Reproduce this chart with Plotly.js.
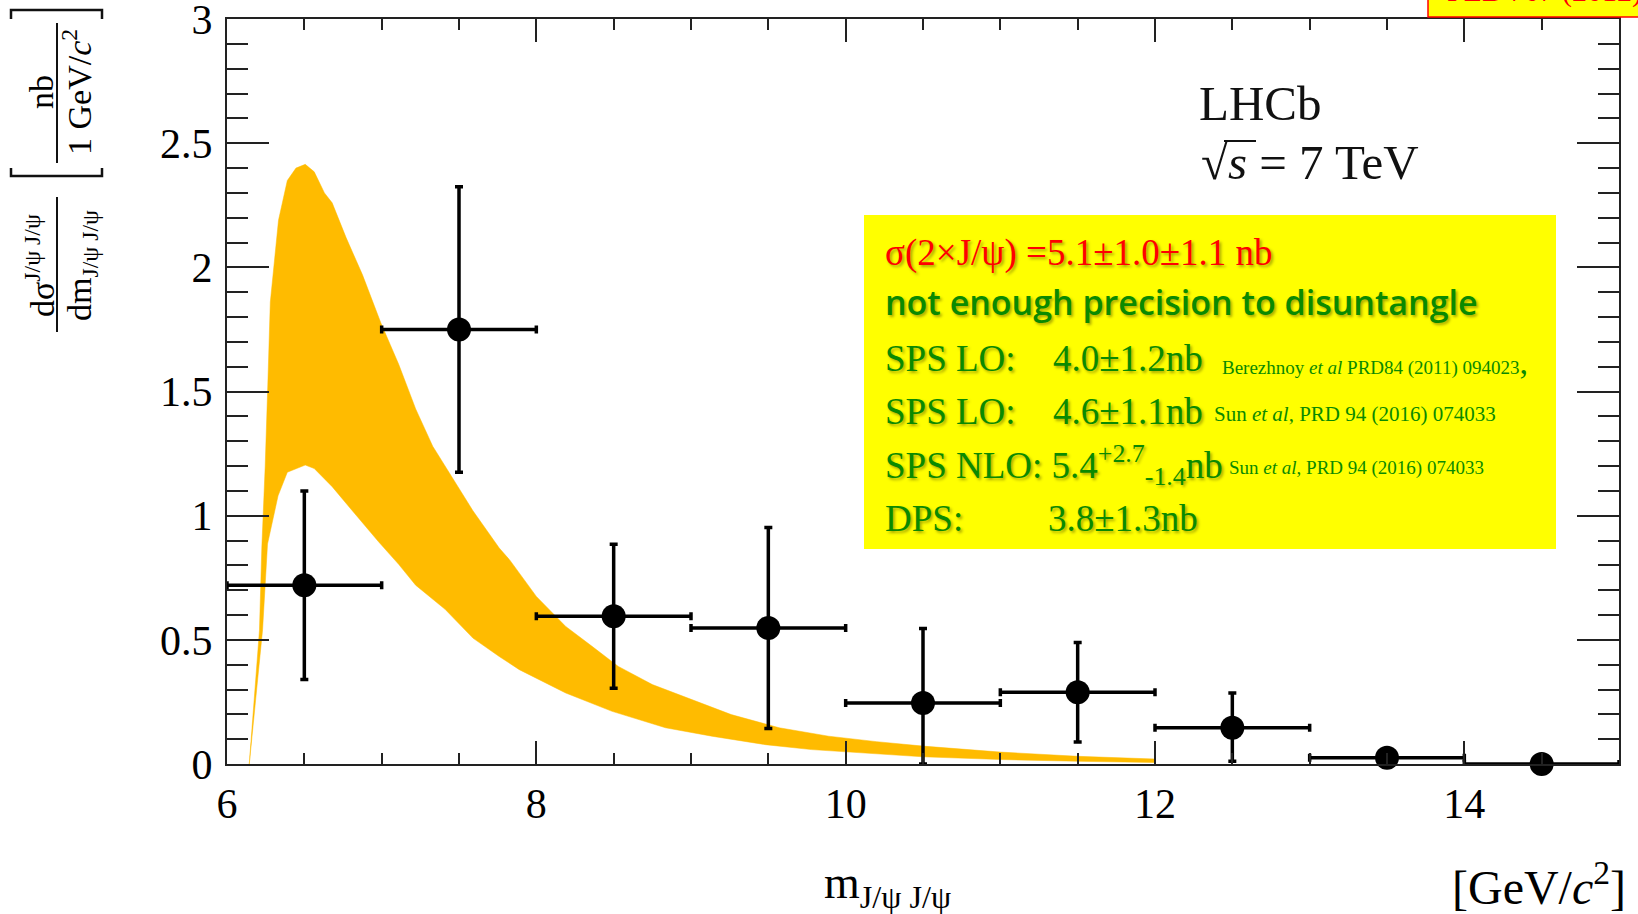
<!DOCTYPE html>
<html>
<head>
<meta charset="utf-8">
<script src="https://cdn.plot.ly/plotly-3.0.1.min.js"></script>
<style>
  html, body { margin: 0; padding: 0; background: #fff; }
  #chart { width: 1638px; height: 914px; }
</style>
</head>
<body>
<div id="chart"></div>
<script>
// LHCb double J/psi production at sqrt(s) = 7 TeV: dsigma/dm with SPS theory band

// measured points (bin centres, 1 GeV/c^2 bins)
const massCenters  = [6.5, 7.5, 8.5, 9.5, 10.5, 11.5, 12.5, 13.5, 14.5];
const xsecValues   = [0.72, 1.75, 0.595, 0.548, 0.246, 0.289, 0.146, 0.025, 0.0];
const xsecErrUp    = [0.38, 0.575, 0.29, 0.405, 0.30, 0.20, 0.14, 0.012, 0.0];
const xsecErrDown  = [0.38, 0.575, 0.29, 0.405, 0.246, 0.20, 0.135, 0.012, 0.0];
const binHalfWidth = [0.5, 0.5, 0.5, 0.5, 0.5, 0.5, 0.5, 0.5, 0.5];

// theory band: upper and lower edges
const bandUpperX = [6.144, 6.21, 6.225, 6.247, 6.264, 6.28, 6.333, 6.39, 6.446, 6.506, 6.564, 6.63, 6.68,
                    6.77, 6.876, 6.995, 7.11, 7.22, 7.33, 7.46, 7.59, 7.76, 7.83, 8.0, 8.19, 8.36, 8.53,
                    8.75, 8.92, 9.26, 9.57, 9.89, 10.2, 10.5, 11.0, 11.5, 12.0];
const bandUpperY = [0.0, 0.54, 0.87, 1.2, 1.53, 1.86, 2.19, 2.35, 2.40, 2.415, 2.385, 2.30, 2.26,
                    2.12, 1.97, 1.776, 1.61, 1.43, 1.28, 1.15, 1.02, 0.87, 0.82, 0.675, 0.554, 0.474, 0.393,
                    0.32, 0.28, 0.199, 0.146, 0.112, 0.09, 0.072, 0.048, 0.031, 0.02];
const bandLowerX = [6.144, 6.23, 6.262, 6.33, 6.39, 6.506, 6.564, 6.68, 6.79, 6.98, 7.11, 7.22, 7.41,
                    7.59, 7.76, 7.89, 8.19, 8.49, 8.835, 9.135, 9.48, 9.78, 10.1, 10.5, 11.0, 11.5, 12.0];
const bandLowerY = [0.0, 0.54, 0.886, 1.08, 1.175, 1.204, 1.19, 1.117, 1.035, 0.895, 0.804, 0.72, 0.623,
                    0.507, 0.433, 0.38, 0.286, 0.212, 0.146, 0.112, 0.078, 0.058, 0.045, 0.029, 0.018, 0.011, 0.006];

// page geometry helpers (pixel -> paper coordinates)
const W = 1638, H = 914;
const M = { l: 227, r: 19, t: 19, b: 150 };
const PW = W - M.l - M.r, PH = H - M.t - M.b;
const px = x => (x - M.l) / PW;
const py = y => (H - M.b - y) / PH;

const SERIF = 'Liberation Serif, Times New Roman, serif';
const GREEN = '#0a8a00';
const SHADOW = '2px 2px 3px rgba(0,0,0,0.35)';

function note(text, x, y, font, extra) {
  return Object.assign({
    xref: 'paper', yref: 'paper', x: px(x), y: py(y), text: text,
    showarrow: false, xanchor: 'left', yanchor: 'middle',
    font: Object.assign({ family: SERIF, size: 36, color: '#000' }, font)
  }, extra || {});
}

const band = {
  type: 'scatter', mode: 'lines',
  x: bandUpperX.concat(bandLowerX.slice().reverse()),
  y: bandUpperY.concat(bandLowerY.slice().reverse()),
  fill: 'toself', fillcolor: '#FFBB00',
  line: { color: '#FFBB00', width: 0.5 },
  hoverinfo: 'skip', showlegend: false
};

const points = {
  type: 'scatter', mode: 'markers',
  x: massCenters, y: xsecValues,
  marker: { color: '#000', size: 24 },
  error_y: { type: 'data', symmetric: false, array: xsecErrUp, arrayminus: xsecErrDown,
             color: '#000', thickness: 3.5, width: 4 },
  error_x: { type: 'data', array: binHalfWidth, color: '#000', thickness: 3.5, width: 4 },
  cliponaxis: false, showlegend: false
};

const axisCommon = {
  showgrid: false, zeroline: false, showline: true, linecolor: '#222', linewidth: 2,
  mirror: 'ticks', ticks: 'inside', tickcolor: '#222', tickwidth: 2,
  ticklabeloverflow: 'allow',
  tickfont: { family: SERIF, size: 42, color: '#000' }
};

const layout = {
  width: W, height: H,
  margin: M,
  paper_bgcolor: '#fff', plot_bgcolor: '#fff',
  showlegend: false,
  xaxis: Object.assign({}, axisCommon, {
    range: [6, 15], tick0: 6, dtick: 2, ticklen: 23, ticklabelstandoff: 2,
    minor: { dtick: 0.5, ticklen: 11, tickwidth: 2, tickcolor: '#222', ticks: 'inside' }
  }),
  yaxis: Object.assign({}, axisCommon, {
    range: [0, 3.0005], tick0: 0, dtick: 0.5, ticklen: 42, ticklabelstandoff: 4,
    minor: { dtick: 0.1, ticklen: 21, tickwidth: 2, tickcolor: '#222', ticks: 'inside' }
  }),
  shapes: [
    // results box
    { type: 'rect', xref: 'paper', yref: 'paper', x0: px(864), x1: px(1556), y0: py(549), y1: py(215),
      fillcolor: '#FFFF00', line: { width: 0 }, layer: 'above' },
    // reference box at top right
    { type: 'rect', xref: 'paper', yref: 'paper', x0: px(1428), x1: px(1660), y0: py(17), y1: py(-20),
      fillcolor: '#FFFF00', line: { color: '#FF0000', width: 1.5 }, layer: 'above' },
    // y title fraction bars
    { type: 'line', xref: 'paper', yref: 'paper', x0: px(57), x1: px(57), y0: py(197), y1: py(332),
      line: { color: '#111', width: 2 } },
    { type: 'line', xref: 'paper', yref: 'paper', x0: px(57), x1: px(57), y0: py(23), y1: py(163),
      line: { color: '#111', width: 2 } },
    // y title brackets
    { type: 'path', xref: 'paper', yref: 'paper',
      path: `M ${px(11)} ${py(168)} L ${px(11)} ${py(176)} L ${px(102)} ${py(176)} L ${px(102)} ${py(168)}`,
      line: { color: '#111', width: 2.5 } },
    { type: 'path', xref: 'paper', yref: 'paper',
      path: `M ${px(11)} ${py(19)} L ${px(11)} ${py(10)} L ${px(102)} ${py(10)} L ${px(102)} ${py(19)}`,
      line: { color: '#111', width: 2.5 } },
    // radical bar over s
    { type: 'line', xref: 'paper', yref: 'paper', x0: px(1224), x1: px(1256), y0: py(141), y1: py(141),
      line: { color: '#111', width: 2 } }
  ],
  annotations: [
    // y axis title
    note('dσ<sup>J/ψ J/ψ</sup>', 40, 266, { size: 34 }, { textangle: -90, xanchor: 'center' }),
    note('dm<sub>J/ψ J/ψ</sub>', 82, 266, { size: 34 }, { textangle: -90, xanchor: 'center' }),
    note('nb', 41, 92, { size: 34 }, { textangle: -90, xanchor: 'center' }),
    note('1 GeV/<i>c</i><sup>2</sup>', 77, 92, { size: 34 }, { textangle: -90, xanchor: 'center' }),
    // x axis title
    note('m<sub>J/ψ J/ψ</sub>', 822, 886, { size: 46 }),
    note('[GeV/<i>c</i><sup>2</sup>]', 1627, 884, { size: 48 }, { xanchor: 'right', borderpad: 0 }),
    // experiment label
    note('LHCb', 1197, 104, { size: 49, color: '#111' }),
    note('√<i>s</i> = 7 TeV', 1199, 162, { size: 49, color: '#111' }),
    // reference box text
    note('PLB 707 (2012) 52', 1445, 10, { size: 30, color: '#FF0000' }, { yanchor: 'bottom' }),
    // results
    note('σ(2×J/ψ) =5.1±1.0±1.1 nb', 883, 253, { size: 37, color: '#FF0000', shadow: SHADOW }),
    note('not enough precision to disuntangle', 883, 302,
         { family: 'Comic Sans MS, Open Sans, sans-serif', size: 34, weight: 600, color: GREEN, shadow: SHADOW }),
    note('SPS LO:', 883, 358, { size: 37, color: GREEN, shadow: SHADOW }),
    note('4.0±1.2nb', 1051, 358, { size: 37, color: GREEN, shadow: SHADOW }),
    note('Berezhnoy <i>et al</i> PRD84 (2011) 094023<span style="font-size:34px">,</span>', 1220, 362,
         { size: 19, color: GREEN }),
    note('SPS LO:', 883, 411, { size: 37, color: GREEN, shadow: SHADOW }),
    note('4.6±1.1nb', 1051, 411, { size: 37, color: GREEN, shadow: SHADOW }),
    note('Sun <i>et al</i>, PRD 94 (2016) 074033', 1212, 414, { size: 21, color: GREEN }),
    note('SPS NLO: 5.4<sup>+2.7</sup><sub>-1.4</sub>nb', 883, 465, { size: 37, color: GREEN, shadow: SHADOW }),
    note('Sun <i>et al</i>, PRD 94 (2016) 074033', 1227, 468, { size: 19, color: GREEN }),
    note('DPS:', 883, 518, { size: 37, color: GREEN, shadow: SHADOW }),
    note('3.8±1.3nb', 1046, 518, { size: 37, color: GREEN, shadow: SHADOW })
  ]
};

Plotly.newPlot('chart', [band, points], layout, { displayModeBar: false, staticPlot: true });
</script>
</body>
</html>
